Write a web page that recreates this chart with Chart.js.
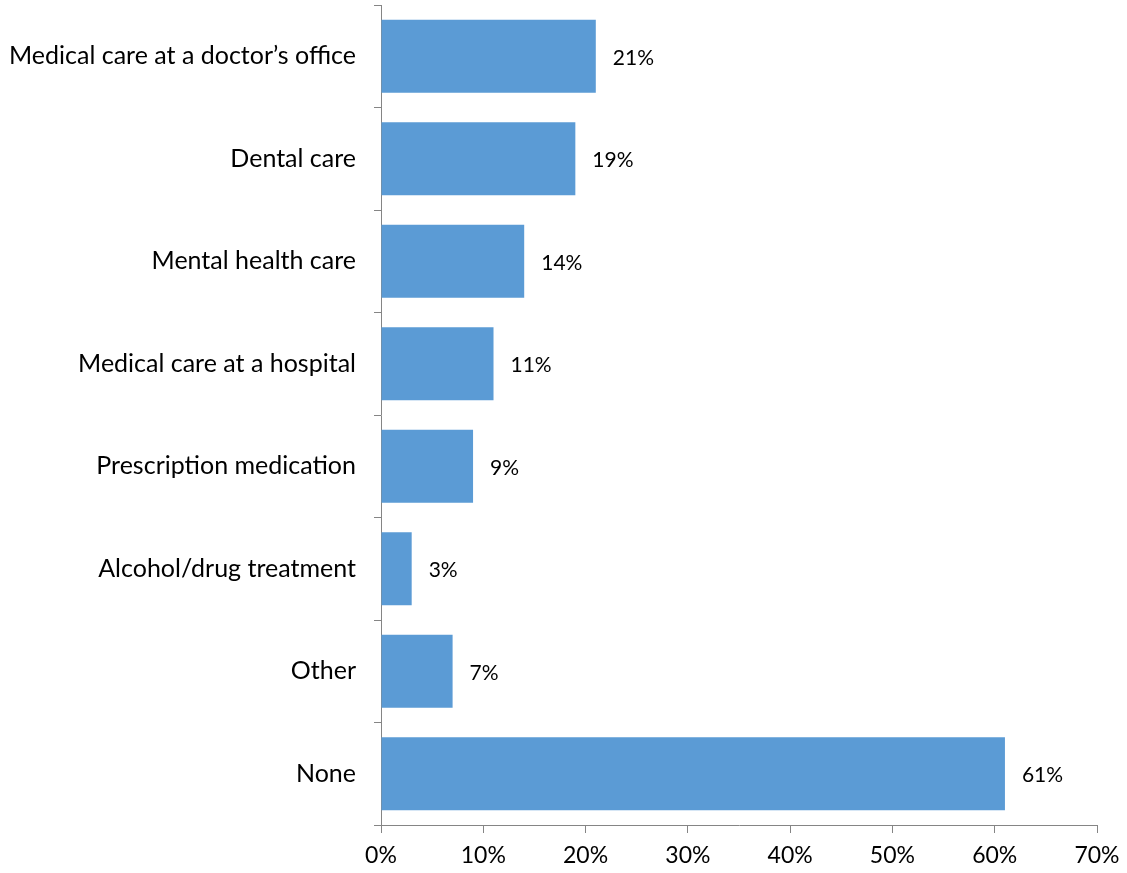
<!DOCTYPE html>
<html>
<head>
    <meta charset="UTF-8">
    <title>Health services used</title>
    <script src="https://cdn.jsdelivr.net/npm/chart.js@4/dist/chart.umd.min.js"></script>
    <style>
        * { margin: 0; padding: 0; box-sizing: border-box; }
        body { background: #fff; width: 1127px; height: 873px; overflow: hidden; }
        #wrap { width: 1127px; height: 873px; position: relative; }
    </style>
</head>
<body>
    <div id="wrap"><canvas id="chart"></canvas></div>
    <script>
        const categories = [
            'Medical care at a doctor\u2019s office',
            'Dental care',
            'Mental health care',
            'Medical care at a hospital',
            'Prescription medication',
            'Alcohol/drug treatment',
            'Other',
            'None'
        ];
        const percents = [21, 19, 14, 11, 9, 3, 7, 61];
        const xTicks = [0, 10, 20, 30, 40, 50, 60, 70];

        const fontFamily = 'Lato, "Open Sans", sans-serif';
        const axisGrey = '#858585';

        // value labels just past the end of each bar
        const valueLabels = {
            id: 'valueLabels',
            afterDatasetsDraw(chart) {
                const ctx = chart.ctx;
                const meta = chart.getDatasetMeta(0);
                ctx.save();
                ctx.font = '21px ' + fontFamily;
                ctx.fillStyle = '#000';
                ctx.textAlign = 'left';
                ctx.textBaseline = 'middle';
                meta.data.forEach((bar, i) => {
                    ctx.fillText(percents[i] + '%', bar.x + 17, bar.y + 1.5);
                });
                ctx.restore();
            }
        };

        new Chart(document.getElementById('chart'), {
            type: 'bar',
            data: {
                labels: categories,
                datasets: [{
                    data: percents,
                    backgroundColor: '#5B9BD5',
                    borderWidth: 0,
                    barPercentage: 0.71,
                    categoryPercentage: 1
                }]
            },
            options: {
                indexAxis: 'y',
                responsive: true,
                maintainAspectRatio: false,
                animation: false,
                layout: { padding: { top: 5, right: 30, left: 0, bottom: 0 } },
                plugins: {
                    legend: { display: false },
                    tooltip: { enabled: false }
                },
                scales: {
                    x: {
                        min: 0,
                        max: 70,
                        afterBuildTicks(scale) {
                            scale.ticks = xTicks.map(v => ({ value: v }));
                        },
                        afterFit(scale) {
                            scale.height = 48;
                            scale.paddingLeft = 0;
                            scale.paddingRight = 0;
                        },
                        border: { display: true, color: axisGrey, width: 1 },
                        grid: {
                            drawOnChartArea: false,
                            drawTicks: true,
                            tickLength: 8,
                            color: axisGrey
                        },
                        ticks: {
                            padding: 9,
                            color: '#000',
                            font: { family: fontFamily, size: 23 },
                            callback: v => v + '%'
                        }
                    },
                    y: {
                        afterFit(scale) {
                            scale.width = 381;
                            scale.paddingTop = 0;
                            scale.paddingBottom = 0;
                        },
                        border: { display: true, color: axisGrey, width: 1 },
                        grid: {
                            offset: true,
                            drawOnChartArea: false,
                            drawTicks: true,
                            tickLength: 7,
                            color: axisGrey
                        },
                        ticks: {
                            padding: 18,
                            color: '#000',
                            font: { family: fontFamily, size: 25 }
                        }
                    }
                }
            },
            plugins: [valueLabels]
        });
    </script>
</body>
</html>
